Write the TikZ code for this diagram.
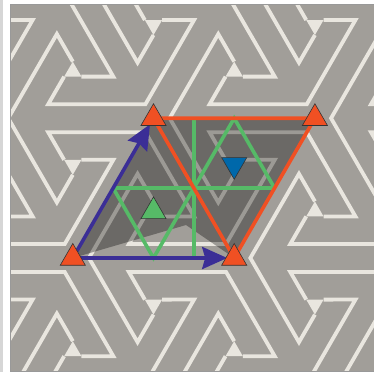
\documentclass[tikz,border=0pt]{standalone}
\usepackage{tikz}
\usetikzlibrary{arrows.meta,shapes.geometric,calc}
\definecolor{patgray}{HTML}{A19E99}
\definecolor{patline}{HTML}{E9E6DF}
\definecolor{cellred}{HTML}{F05023}
\definecolor{vecblue}{HTML}{3B2E96}
\definecolor{glidegreen}{HTML}{56BA67}
\definecolor{rotblue}{HTML}{0068AA}
\tikzstyle{band} = [draw=patline, line width=3.8pt]
\tikzstyle{mirror} = [draw=cellred, line width=3.6pt]
\tikzstyle{glide} = [draw=glidegreen, line width=3.6pt]
\tikzstyle{vec} = [draw=vecblue, line width=3.6pt, shorten >=7pt,
  -{Stealth[length=25pt,width=22pt,inset=3pt]}]
\tikzstyle{rot} = [draw=black!80, line width=0.6pt, regular polygon,
  regular polygon sides=3, minimum size=29pt, inner sep=0pt]

\begin{document}
\begin{tikzpicture}[x=1pt,y=-1pt]
    \useasboundingbox (0,0) rectangle (374,372);
    \fill[white] (0,0) rectangle (374,372);
    \fill[black!16] (0,0) rectangle (3,372);
    % p31m pattern, one set of hooks per lattice point
    \begin{scope}
        \clip (10,4) rectangle (374,371);
        \fill[patgray] (10,4) rectangle (374,371);
        \foreach \i in {-2,...,3}
            \foreach \j in {-1,...,2} {
                \begin{scope}[shift={(72.8+161.4*\i+80.7*\j,258-139.78*\j)}]
                    \foreach \r in {0,120,240}
                        \draw[band,rotate=\r] (-89.36,41.59) -- (-105.3,14)
                            -- (-8.08,14) -- (40.53,98.19) -- (8.66,98.19);
                    \fill[patline] (72.04,-41.59) -- (89.36,-41.59) -- (80.7,-56.59) -- cycle;
                    \fill[patline] (-8.66,-98.19) -- (8.66,-98.19) -- (0,-83.19) -- cycle;
                \end{scope}
            }
    \end{scope}
    \draw[black!40, line width=0.8pt] (10,4) rectangle (374,371);

    \coordinate (A) at (72.8,258);
    \coordinate (B) at (234.2,258);
    \coordinate (C) at (153.5,118.22);
    \coordinate (D) at (314.9,118.22);
    \coordinate (Q) at (186,225);
    \coordinate (G1) at (153.5,211.4);
    \coordinate (G2) at (234.2,164.8);

    \fill[black, opacity=0.33] (A) -- (Q) -- (B) -- (D) -- (C) -- cycle;

    \draw[glide] ($(A)!0.5!(C)$) -- ($(B)!0.5!(D)$);
    \draw[glide] ($(A)!0.5!(C)$) -- ($(A)!0.5!(B)$) -- ($(C)!0.5!(D)$) -- ($(B)!0.5!(D)$);
    \draw[glide] ($(C)!0.25!(D)$) -- ($(A)!0.75!(B)$);

    \draw[mirror] (C) -- (D) -- (B) -- cycle;
    \draw[vec] (A) -- (B);
    \draw[vec] (A) -- (C);

    \node[rot, fill=cellred] (tA) at (A) {};
    \node[rot, fill=cellred] (tB) at (B) {};
    \node[rot, fill=cellred] (tC) at (C) {};
    \node[rot, fill=cellred] (tD) at (D) {};
    \node[rot, fill=glidegreen] (tG1) at (G1) {};
    \node[rot, fill=rotblue, shape border rotate=180] (tG2) at (G2) {};
\end{tikzpicture}
\end{document}
